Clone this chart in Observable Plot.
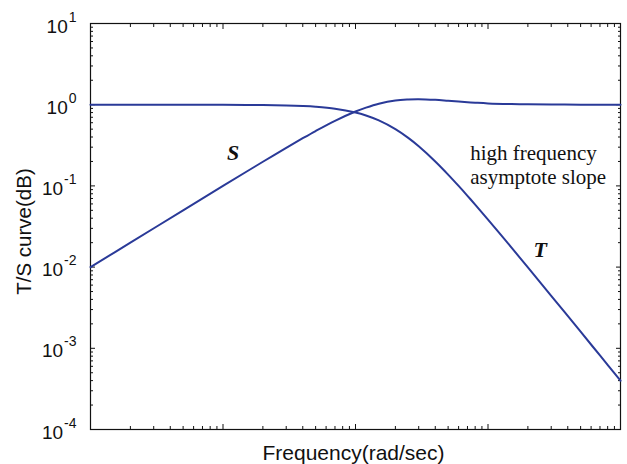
<!DOCTYPE html>
<html><head><meta charset="utf-8">
<script src="https://cdn.jsdelivr.net/npm/d3@7"></script>
<script src="https://cdn.jsdelivr.net/npm/@observablehq/plot@0.6"></script>
<style>body{margin:0;background:#fff}</style>
</head><body><div id="chart"></div>
<script>
// Frequencies (rad/sec) and curve values
const freq    = [0.01, 0.02, 0.05, 0.1, 0.15, 0.2, 0.3, 0.4, 0.5, 0.7, 1, 1.2, 1.5, 2, 2.5, 3, 4, 5, 6, 7, 8, 10, 15, 20, 30, 50, 70, 100];
const sValues = [0.0100, 0.0200, 0.0500, 0.0998, 0.1493, 0.1983, 0.2942, 0.3865, 0.4743, 0.6331, 0.8246, 0.9212, 1.030, 1.130, 1.162, 1.170, 1.148, 1.117, 1.092, 1.072, 1.058, 1.038, 1.018, 1.010, 1.0045, 1.0016, 1.0008, 1.0004];
const tValues = [1.000, 0.9999, 0.9994, 0.9975, 0.9944, 0.9901, 0.978, 0.9615, 0.9412, 0.8909, 0.800, 0.7353, 0.640, 0.500, 0.3902, 0.3077, 0.200, 0.1379, 0.100, 0.0755, 0.0588, 0.0385, 0.0175, 0.0099, 0.00443, 0.0016, 0.000816, 0.0004];

const yMajor = [1e-4, 1e-3, 1e-2, 1e-1, 1, 10];
const yTickLabels = ["-4", "-3", "-2", "-1", "0", "1"];
const xMajor = [0.01, 0.1, 1, 10, 100];

const annotations = [
  {x: 0.119, y: 0.2055, text: "S"},
  {x: 24.8, y: 0.01313, text: "T"}
];
const noteText = "high frequency\nasymptote slope";
const xLabel = "Frequency(rad/sec)";
const yLabel = "T/S curve(dB)";

function minorTicks(decades) {
  const out = [];
  for (let i = 0; i < decades.length - 1; i++)
    for (let k = 2; k <= 9; k++) out.push(decades[i] * k);
  return out;
}
const yMinor = minorTicks(yMajor);
const xMinor = minorTicks(xMajor);

const lineColor = "#2a3a98";
const serif = "'Liberation Serif', 'Times New Roman', serif";
const sans = "'Liberation Sans', Arial, Helvetica, sans-serif";

const plot = Plot.plot({
  width: 627, height: 464,
  marginLeft: 90, marginRight: 7, marginTop: 23, marginBottom: 35,
  style: {fontFamily: sans, background: "#fff"},
  x: {type: "log", domain: [0.01, 100], label: null},
  y: {type: "log", domain: [1e-4, 10], label: null},
  marks: [
    Plot.frame({stroke: "#111", strokeWidth: 1.2}),
    // inward major / minor ticks on all four sides
    Plot.axisY(yMajor, {anchor: "left", tickSize: 5, dx: 5, fill: "none", stroke: "#111"}),
    Plot.axisY(yMinor, {anchor: "left", tickSize: 3, dx: 3, fill: "none", stroke: "#111"}),
    Plot.axisY(yMajor, {anchor: "right", tickSize: 5, dx: -5, fill: "none", stroke: "#111"}),
    Plot.axisY(yMinor, {anchor: "right", tickSize: 3, dx: -3, fill: "none", stroke: "#111"}),
    Plot.axisX(xMajor, {anchor: "bottom", tickSize: 5, dy: -5, fill: "none", stroke: "#111"}),
    Plot.axisX(xMinor, {anchor: "bottom", tickSize: 3, dy: -3, fill: "none", stroke: "#111"}),
    Plot.axisX(xMajor, {anchor: "top", tickSize: 5, dy: 5, fill: "none", stroke: "#111"}),
    Plot.axisX(xMinor, {anchor: "top", tickSize: 3, dy: 3, fill: "none", stroke: "#111"}),
    // y tick labels (exponents, turned into superscripts below)
    Plot.axisY(yMajor, {anchor: "left", tickSize: 0, tickPadding: 14, dy: 3, fill: "#111",
      fontSize: 18, label: null, tickFormat: d => yTickLabels[yMajor.indexOf(d)]}),
    Plot.line(freq, {x: freq, y: sValues, stroke: lineColor, strokeWidth: 2, curve: "catmull-rom"}),
    Plot.line(freq, {x: freq, y: tValues, stroke: lineColor, strokeWidth: 2, curve: "catmull-rom"}),
    Plot.text(annotations, {x: "x", y: "y", text: "text", fontFamily: serif, fontWeight: "bold",
      fontStyle: "italic", fontSize: 22, lineAnchor: "bottom", textAnchor: "middle", fill: "#111"}),
    Plot.text([noteText], {x: [7.34], y: [0.107], text: d => d, fontFamily: serif, fontSize: 21,
      lineHeight: 1.1, lineAnchor: "bottom", textAnchor: "start", fill: "#111"}),
    Plot.text([xLabel], {frameAnchor: "bottom", text: d => d, dx: -2, dy: 30, lineAnchor: "bottom",
      textAnchor: "middle", fontSize: 21, fill: "#111"}),
    Plot.text([yLabel], {frameAnchor: "left", text: d => d, rotate: -90, dx: -66, dy: 5,
      lineAnchor: "middle", textAnchor: "middle", fontSize: 20.5, fill: "#111"})
  ]
});

d3.select(plot).selectAll('g[aria-label="y-axis tick label"] text').each(function () {
  const e = this.textContent;
  const t = d3.select(this);
  t.text(null).attr("font-size", 19).style("font-size", "19px");
  t.append("tspan").text("10");
  t.append("tspan").attr("dx", 1).attr("dy", -11).attr("font-size", 14).style("font-size", "14px").text(e);
});

document.getElementById("chart").appendChild(plot);
</script>
</body></html>
